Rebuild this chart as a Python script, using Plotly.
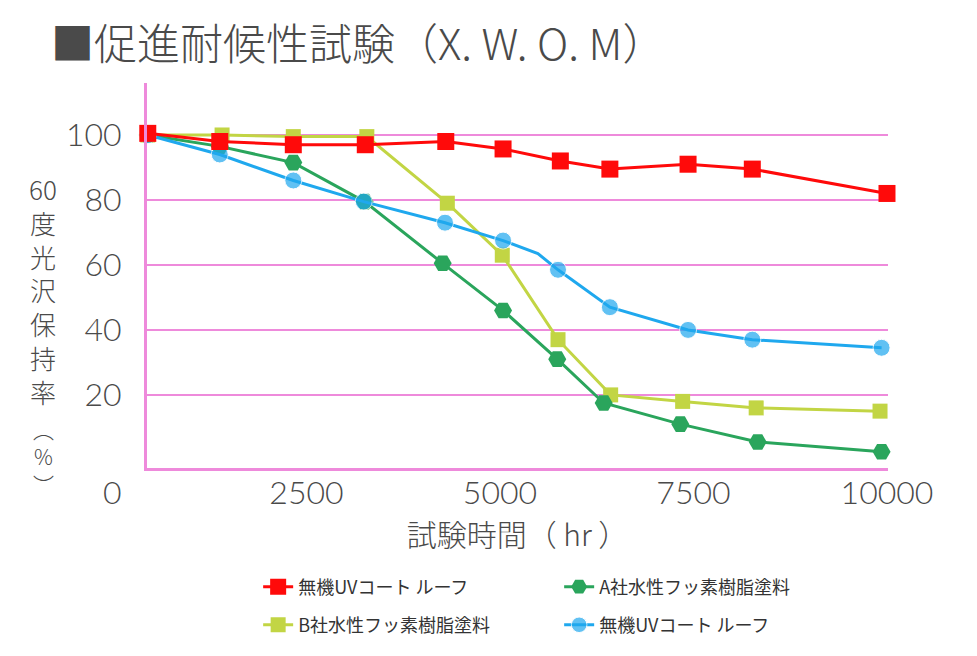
import plotly.graph_objects as go

# ---- text ----
title_text = "■促進耐候性試験（X. W. O. M）"
x_title = "試験時間（ hr ）"
y_title_main = ["60", "度", "光", "沢", "保", "持", "率"]
y_title_unit = ["︵", "%", "︶"]

# ---- ticks ----
x_tickvals = [0, 2500, 5000, 7500, 10000]
x_ticktext = ["0", "2500", "5000", "7500", "10000"]
y_tickvals = [20, 40, 60, 80, 100]
y_ticktext = ["20", "40", "60", "80", "100"]

# ---- series (hours, gloss retention %) ----
names = ["無機UVコート ルーフ", "A社水性フッ素樹脂塗料", "B社水性フッ素樹脂塗料", "無機UVコート ルーフ"]

red_x = [450, 1380, 2330, 3260, 4300, 5040, 5780, 6420, 7430, 8260, 10000]
red_y = [100.5, 98, 97, 97, 98, 95.7, 92, 89.5, 91, 89.5, 82]

green_x = [450, 1380, 2330, 3250, 4260, 5040, 5740, 6340, 7330, 8330, 9930]
green_y = [100, 96.5, 91.5, 79.5, 60.5, 46, 31, 17.5, 11, 5.5, 2.5]

yellow_x = [450, 1410, 2330, 3280, 4320, 5030, 5750, 6430, 7360, 8310, 9910]
yellow_y = [100, 100, 99.5, 99.5, 79, 63, 37, 20, 18, 16, 15]

blue_x = [450, 1380, 2330, 3240, 4290, 5040, 5490, 5750, 6420, 7430, 8260, 9930]
blue_y = [100, 94, 86, 79.5, 73, 67.5, 63.5, 58.5, 47, 40, 37, 34.5]
blue_marker_on = [1, 1, 1, 1, 1, 1, 0, 1, 1, 1, 1, 1]

x_range = [440, 10013]
y_range = [-2.5, 116]

RED = "#FF0A0A"
GREEN = "#2AA55C"
YELLOW = "#C2D544"
BLUE = "#1FA8EE"
PINK = "#EE8ADB"
TXT = "#4A4A4A"

NUM_FONT = "Lato, 'Noto Sans CJK JP', sans-serif"
JP_FONT = "'Noto Sans CJK JP', Lato, sans-serif"

W, H = 961, 640  # page body has an 8px margin inside the 977x656 window

fig = go.Figure()

# drawing order bottom->top: yellow, green, blue, red
fig.add_trace(go.Scatter(
    x=yellow_x, y=yellow_y, name=names[2], mode="lines+markers",
    line=dict(color=YELLOW, width=3),
    marker=dict(symbol="square", size=15, color=YELLOW),
    legend="legend2", legendrank=1, cliponaxis=False))
fig.add_trace(go.Scatter(
    x=green_x, y=green_y, name=names[1], mode="lines+markers",
    line=dict(color=GREEN, width=3),
    marker=dict(symbol="hexagon2", size=18, color=GREEN),
    legend="legend", legendrank=2, cliponaxis=False))
fig.add_trace(go.Scatter(
    x=blue_x, y=blue_y, name=names[3], mode="lines+markers",
    line=dict(color=BLUE, width=3),
    marker=dict(symbol="circle", size=[17 * m for m in blue_marker_on], color=BLUE),
    legend="legend2", legendrank=2, cliponaxis=False))
fig.add_trace(go.Scatter(
    x=red_x, y=red_y, name=names[0], mode="lines+markers",
    line=dict(color=RED, width=3),
    marker=dict(symbol="square", size=17, color=RED),
    legend="legend", legendrank=1, cliponaxis=False))

fig.update_layout(
    width=W, height=H,
    margin=dict(l=139, r=81, t=75, b=180, autoexpand=False),
    paper_bgcolor="white", plot_bgcolor="white",
    title=dict(text=title_text, x=43 / W, xanchor="left", y=1 - 37 / H, yanchor="middle",
               font=dict(family=JP_FONT, size=43, color=TXT, weight=300)),
    xaxis=dict(range=x_range, tickvals=x_tickvals, ticktext=x_ticktext,
               showgrid=False, zeroline=False, showline=True, linecolor=PINK, linewidth=3,
               ticks="", ticklabelstandoff=-5,
               tickfont=dict(family=NUM_FONT, size=32, color=TXT, weight=300),
               title=dict(text=x_title, standoff=12,
                          font=dict(family=JP_FONT, size=30, color=TXT, weight=300))),
    yaxis=dict(range=y_range, tickvals=y_tickvals, ticktext=y_ticktext,
               showgrid=True, gridcolor=PINK, gridwidth=2, zeroline=False,
               showline=True, linecolor=PINK, linewidth=3, ticks="",
               ticklabelstandoff=16,
               tickfont=dict(family=NUM_FONT, size=32, color=TXT, weight=300)),
    legend=dict(orientation="h", x=0.15, xanchor="left", y=-0.309, yanchor="middle",
                entrywidth=256, entrywidthmode="pixels", traceorder="normal",
                font=dict(family=JP_FONT, size=18, color="#333333"),
                bgcolor="rgba(0,0,0,0)"),
    legend2=dict(orientation="h", x=0.15, xanchor="left", y=-0.408, yanchor="middle",
                 entrywidth=256, entrywidthmode="pixels", traceorder="normal",
                 font=dict(family=JP_FONT, size=18, color="#333333"),
                 bgcolor="rgba(0,0,0,0)"),
    showlegend=True,
)

# "0" tick label sits left of the plotted range
zero_paper_x = (x_tickvals[0] - x_range[0]) / (x_range[1] - x_range[0])
fig.add_annotation(text=x_ticktext[0], x=zero_paper_x, xref="paper", y=0, yref="paper",
                   xanchor="center", yanchor="top", yshift=-2, showarrow=False,
                   font=dict(family=NUM_FONT, size=32, color=TXT, weight=300))

# vertical y-axis title
fig.add_annotation(text="<br>".join(y_title_main), x=-0.140, xref="paper", y=0.462, yref="paper",
                   xanchor="center", yanchor="middle", showarrow=False,
                   font=dict(family=JP_FONT, size=26, color=TXT, weight=300))
fig.add_annotation(text="<br>".join(y_title_unit), x=-0.140, xref="paper", y=0.030, yref="paper",
                   xanchor="center", yanchor="middle", showarrow=False,
                   font=dict(family=JP_FONT, size=21, color=TXT, weight=300))

fig.write_html("out.html")
